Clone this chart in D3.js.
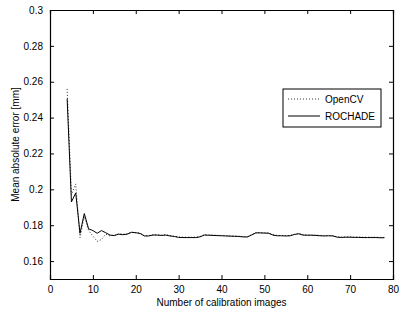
<!DOCTYPE html>
<head>
<meta charset="utf-8">
<style>
body { margin: 0; background: #fff; }
text { font-family: "Liberation Sans", Arial, sans-serif; }
</style>
</head>
<body>
<div id="chart"></div>
<script src="https://d3js.org/d3.v7.min.js"></script>
<script>
// number of calibration images
var images = d3.range(4, 79);
var rochade = [0.2505, 0.193, 0.198, 0.1755, 0.1865, 0.178, 0.177, 0.1755, 0.177, 0.1758,
  0.1745, 0.1742, 0.175, 0.1747, 0.175, 0.176, 0.1758, 0.1754, 0.174, 0.174,
  0.1745, 0.1745, 0.1743, 0.1745, 0.174, 0.1737, 0.1732, 0.1731, 0.1731, 0.1731,
  0.1731, 0.1735, 0.1745, 0.1744, 0.1743, 0.1742, 0.1741, 0.174, 0.1739, 0.1738,
  0.1737, 0.1735, 0.1734, 0.1745, 0.1757, 0.1757, 0.1756, 0.1755, 0.1745, 0.1741,
  0.1741, 0.174, 0.1741, 0.1748, 0.1752, 0.1745, 0.1744, 0.1744, 0.1743, 0.1741,
  0.174, 0.1741, 0.174, 0.1733, 0.1732, 0.1733, 0.1733, 0.1732, 0.1732, 0.1731,
  0.1731, 0.1731, 0.1731, 0.173, 0.173];
var opencv = [0.256, 0.197, 0.203, 0.173, 0.185, 0.177, 0.174, 0.171, 0.172, 0.175,
  0.174, 0.1745, 0.1752, 0.175, 0.1752, 0.1762, 0.1758, 0.1756, 0.1742, 0.1742,
  0.1747, 0.1746, 0.1745, 0.1747, 0.1742, 0.1738, 0.1734, 0.1733, 0.1733, 0.1733,
  0.1733, 0.1737, 0.1748, 0.1746, 0.1745, 0.1744, 0.1743, 0.1742, 0.1741, 0.174,
  0.1739, 0.1737, 0.1736, 0.1747, 0.176, 0.1759, 0.1758, 0.1757, 0.1747, 0.1743,
  0.1743, 0.1742, 0.1743, 0.175, 0.1755, 0.1747, 0.1746, 0.1746, 0.1745, 0.1743,
  0.1742, 0.1743, 0.1742, 0.1735, 0.1734, 0.1735, 0.1735, 0.1734, 0.1734, 0.1733,
  0.1733, 0.1733, 0.1733, 0.1732, 0.1732];
var xTicks = [0, 10, 20, 30, 40, 50, 60, 70, 80];
var yTicks = [0.16, 0.18, 0.2, 0.22, 0.24, 0.26, 0.28, 0.3];
var seriesNames = ["OpenCV", "ROCHADE"];

var W = 401, H = 310;
var margin = {top: 10, right: 8, bottom: 31, left: 50},
    width = W - margin.left - margin.right,
    height = H - margin.top - margin.bottom;

var svg = d3.select("#chart").append("svg")
    .attr("width", W)
    .attr("height", H)
  .append("g")
    .attr("transform", "translate(" + margin.left + "," + margin.top + ")");

var x = d3.scaleLinear().domain([0, 80]).range([0, width]);
var y = d3.scaleLinear().domain([0.15, 0.3]).range([height, 0]);

// box with inward ticks on all sides (matlab style)
var fmtY = function(d) { return d === 0.3 ? "0.3" : d3.format(".2f")(d).replace(/0$/, ""); };
var gx = svg.append("g").attr("transform", "translate(0," + height + ")")
    .call(d3.axisBottom(x).tickValues(xTicks).tickSize(-4).tickPadding(7));
var gy = svg.append("g")
    .call(d3.axisLeft(y).tickValues(yTicks).tickSize(-4).tickPadding(7).tickFormat(fmtY));
var gt = svg.append("g")
    .call(d3.axisTop(x).tickValues(xTicks).tickSize(-4).tickFormat(""));
var gr = svg.append("g").attr("transform", "translate(" + width + ",0)")
    .call(d3.axisRight(y).tickValues(yTicks).tickSize(-4).tickFormat(""));
[gx, gy, gt, gr].forEach(function(g) {
  g.selectAll("path").attr("stroke", "#000").attr("stroke-width", 1.2);
  g.selectAll("line").attr("stroke", "#000");
  g.selectAll("text").attr("fill", "#000").style("font-size", "10px")
    .style("font-family", "'Liberation Sans', Arial, sans-serif");
});

var line = d3.line()
    .x(function(d, i) { return x(images[i]); })
    .y(function(d) { return y(d); });

svg.append("path")
    .datum(opencv)
    .attr("fill", "none")
    .attr("stroke", "#000")
    .attr("stroke-width", 0.8)
    .attr("stroke-dasharray", "1,2")
    .attr("d", line);

svg.append("path")
    .datum(rochade)
    .attr("fill", "none")
    .attr("stroke", "#000")
    .attr("stroke-width", 1)
    .attr("d", line);

// axis labels
svg.append("text")
    .attr("text-anchor", "middle")
    .attr("transform", "translate(" + (-31) + "," + (height / 2) + ")rotate(-90)")
    .style("font-size", "10px")
    .text("Mean absolute error [mm]");
svg.append("text")
    .attr("text-anchor", "middle")
    .attr("x", width / 2)
    .attr("y", height + 27)
    .style("font-size", "10px")
    .text("Number of calibration images");

// legend
var lg = svg.append("g").attr("transform", "translate(" + (283 - margin.left) + "," + (89 - margin.top) + ")");
lg.append("rect")
    .attr("width", 98).attr("height", 38)
    .attr("fill", "#fff").attr("stroke", "#000").attr("stroke-width", 1);
seriesNames.forEach(function(name, i) {
  var yy = 10 + i * 17;
  lg.append("line")
      .attr("x1", 5).attr("x2", 37).attr("y1", yy).attr("y2", yy)
      .attr("stroke", "#000")
      .attr("stroke-width", i === 0 ? 0.8 : 1)
      .attr("stroke-dasharray", i === 0 ? "1,2" : null);
  lg.append("text")
      .attr("x", 42).attr("y", yy + 3.5)
      .style("font-size", "10px")
      .text(name);
});
</script>
</body>
</html>
